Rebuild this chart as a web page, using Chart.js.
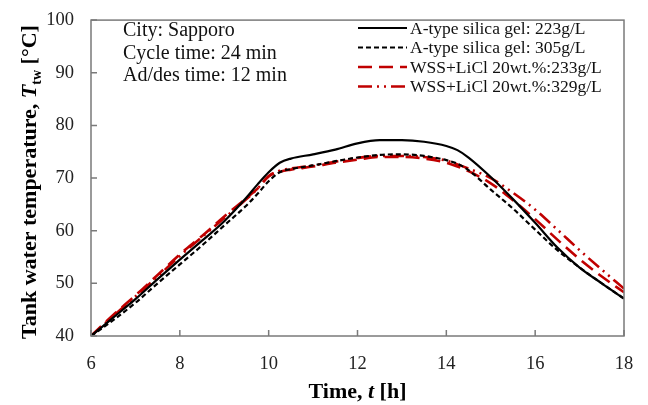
<!DOCTYPE html>
<html>
<head>
<meta charset="utf-8">
<script src="https://cdn.jsdelivr.net/npm/chart.js@4.4.1/dist/chart.umd.min.js"></script>
<style>
  html, body { margin: 0; padding: 0; background: #fff; }
  #wrap { width: 648px; height: 405px; }
</style>
</head>
<body>
<div id="wrap"><canvas id="chart" width="648" height="405"></canvas></div>
<script>
'use strict';

// time of day [h]
const hours = [6, 6.5, 7, 7.5, 8, 8.5, 9, 9.5, 9.75, 10, 10.25, 10.5, 11, 11.5, 12, 12.5, 13, 13.5, 14, 14.25, 14.5, 15, 15.5, 16, 16.5, 17, 17.5, 18];

// tank water temperature [°C]
const silica223 = [40, 43.5, 47, 50.8, 54.5, 58.1, 61.8, 66.3, 68.8, 71.1, 72.9, 73.7, 74.5, 75.4, 76.6, 77.2, 77.2, 76.9, 76.1, 75.3, 73.9, 70.2, 66, 61.5, 56.8, 53, 50, 47.1];
const silica305 = [40, 43, 46.3, 50, 53.6, 57.2, 61, 64.8, 67, 69.4, 71.1, 71.7, 72.4, 73.2, 73.9, 74.4, 74.5, 74.2, 73.4, 72.7, 71.5, 67.8, 64.2, 60.2, 56.3, 53, 50, 47.1];
const wss233 = [40, 44, 47.7, 51.6, 55.5, 59, 62.7, 66.2, 68, 70.3, 71.2, 71.6, 72.2, 72.9, 73.5, 74, 74, 73.7, 72.9, 72.2, 71.3, 69, 65.8, 62.2, 58.3, 54.6, 51.3, 48.3];
const wss329 = [40, 43.8, 47.5, 51.3, 55.2, 58.8, 62.4, 66, 68, 70.4, 71.4, 71.8, 72.4, 73.1, 73.8, 74.2, 74.2, 74, 73.3, 72.6, 71.8, 70, 67.2, 64, 60.2, 56.3, 52.6, 49];

const seriesNames = ['A-type silica gel: 223g/L', 'A-type silica gel: 305g/L', 'WSS+LiCl 20wt.%:233g/L', 'WSS+LiCl 20wt.%:329g/L'];
const xTicks = [6, 8, 10, 12, 14, 16, 18];
const yTicks = [40, 50, 60, 70, 80, 90, 100];
const notes = ['City: Sapporo', 'Cycle time: 24 min', 'Ad/des time: 12 min'];

const SERIF = '"Liberation Serif", "Times New Roman", serif';
const RED = '#c00000';

function points(ys) {
  let out = [];
  for (let i = 0; i < hours.length; i++) {
    out.push({ x: hours[i], y: ys[i] });
  }
  return out;
}

const styles = [
  { color: '#000', width: 2.2, dash: [] },
  { color: '#000', width: 2.2, dash: [5, 3] },
  { color: RED, width: 2.6, dash: [14, 7] },
  { color: RED, width: 2.6, dash: [14, 5, 2, 5, 2, 5] }
];
const allData = [silica223, silica305, wss233, wss329];

let datasets = [];
for (let i = 0; i < allData.length; i++) {
  datasets.push({
    label: seriesNames[i],
    data: points(allData[i]),
    borderColor: styles[i].color,
    borderWidth: styles[i].width,
    borderDash: styles[i].dash,
    pointRadius: 0,
    cubicInterpolationMode: 'monotone',
    fill: false
  });
}

function drawRich(ctx, parts, x, y, align) {
  let total = 0;
  parts.forEach(p => { ctx.font = p.font; total += ctx.measureText(p.text).width; });
  let cx = align === 'center' ? x - total / 2 : x;
  parts.forEach(p => {
    ctx.font = p.font;
    ctx.fillText(p.text, cx, y + (p.dy || 0));
    cx += ctx.measureText(p.text).width;
  });
}

const decorPlugin = {
  id: 'decor',
  afterDatasetsDraw(chart) {
    const ctx = chart.ctx;
    const a = chart.chartArea;
    const xs = chart.scales.x;
    const ys = chart.scales.y;
    ctx.save();

    // frame
    ctx.strokeStyle = '#7a7a7a';
    ctx.lineWidth = 1.5;
    ctx.setLineDash([]);
    ctx.strokeRect(a.left, a.top, a.right - a.left, a.bottom - a.top);

    // inner ticks
    ctx.beginPath();
    xTicks.forEach(v => {
      const px = xs.getPixelForValue(v);
      ctx.moveTo(px, a.bottom);
      ctx.lineTo(px, a.bottom - 6);
    });
    yTicks.forEach(v => {
      const py = ys.getPixelForValue(v);
      ctx.moveTo(a.left, py);
      ctx.lineTo(a.left + 6, py);
    });
    ctx.stroke();

    // notes
    ctx.fillStyle = '#111';
    ctx.textBaseline = 'alphabetic';
    ctx.textAlign = 'left';
    ctx.font = '20px ' + SERIF;
    notes.forEach((t, i) => ctx.fillText(t, 123, 36 + i * 22.7));

    // legend
    const lx0 = 358, lx1 = 407;
    ctx.font = '17.5px ' + SERIF;
    ctx.textBaseline = 'middle';
    for (let i = 0; i < seriesNames.length; i++) {
      const ly = 28 + i * 19.5;
      ctx.beginPath();
      ctx.strokeStyle = styles[i].color;
      ctx.lineWidth = styles[i].width;
      ctx.setLineDash(styles[i].dash);
      ctx.moveTo(lx0, ly);
      ctx.lineTo(lx1, ly);
      ctx.stroke();
      ctx.fillText(seriesNames[i], 410, ly + 1);
    }
    ctx.setLineDash([]);

    // axis titles
    const B = 'bold 22px ' + SERIF;
    const BI = 'italic bold 22px ' + SERIF;
    const BS = 'bold 14px ' + SERIF;
    ctx.fillStyle = '#000';
    ctx.textBaseline = 'alphabetic';
    drawRich(ctx, [
      { text: 'Time, ', font: B },
      { text: 't', font: BI },
      { text: ' [h]', font: B }
    ], (a.left + a.right) / 2, 398, 'center');

    ctx.translate(36, 182);
    ctx.rotate(-Math.PI / 2);
    drawRich(ctx, [
      { text: 'Tank water temperature, ', font: B },
      { text: 'T', font: BI },
      { text: 'tw', font: BS, dy: 5 },
      { text: ' [°C]', font: B }
    ], 0, 0, 'center');

    ctx.restore();
  }
};

const ctx = document.getElementById('chart');
new Chart(ctx, {
  type: 'line',
  data: { datasets: datasets },
  options: {
    responsive: false,
    animation: false,
    layout: { padding: { top: 13, right: 24, left: 0, bottom: 0 } },
    plugins: { legend: { display: false }, tooltip: { enabled: false } },
    scales: {
      x: {
        type: 'linear',
        min: 6,
        max: 18,
        afterFit: s => { s.height = 69; },
        afterBuildTicks: s => { s.ticks = xTicks.map(v => ({ value: v })); },
        grid: { display: false },
        border: { display: false },
        ticks: { color: '#222', padding: 9, font: { family: SERIF, size: 18.5 } }
      },
      y: {
        min: 40,
        max: 100,
        afterFit: s => { s.width = 91; },
        afterBuildTicks: s => { s.ticks = yTicks.map(v => ({ value: v })); },
        grid: { display: false },
        border: { display: false },
        ticks: { color: '#222', padding: 9, font: { family: SERIF, size: 18.5 } }
      }
    }
  },
  plugins: [decorPlugin]
});
</script>
</body>
</html>
